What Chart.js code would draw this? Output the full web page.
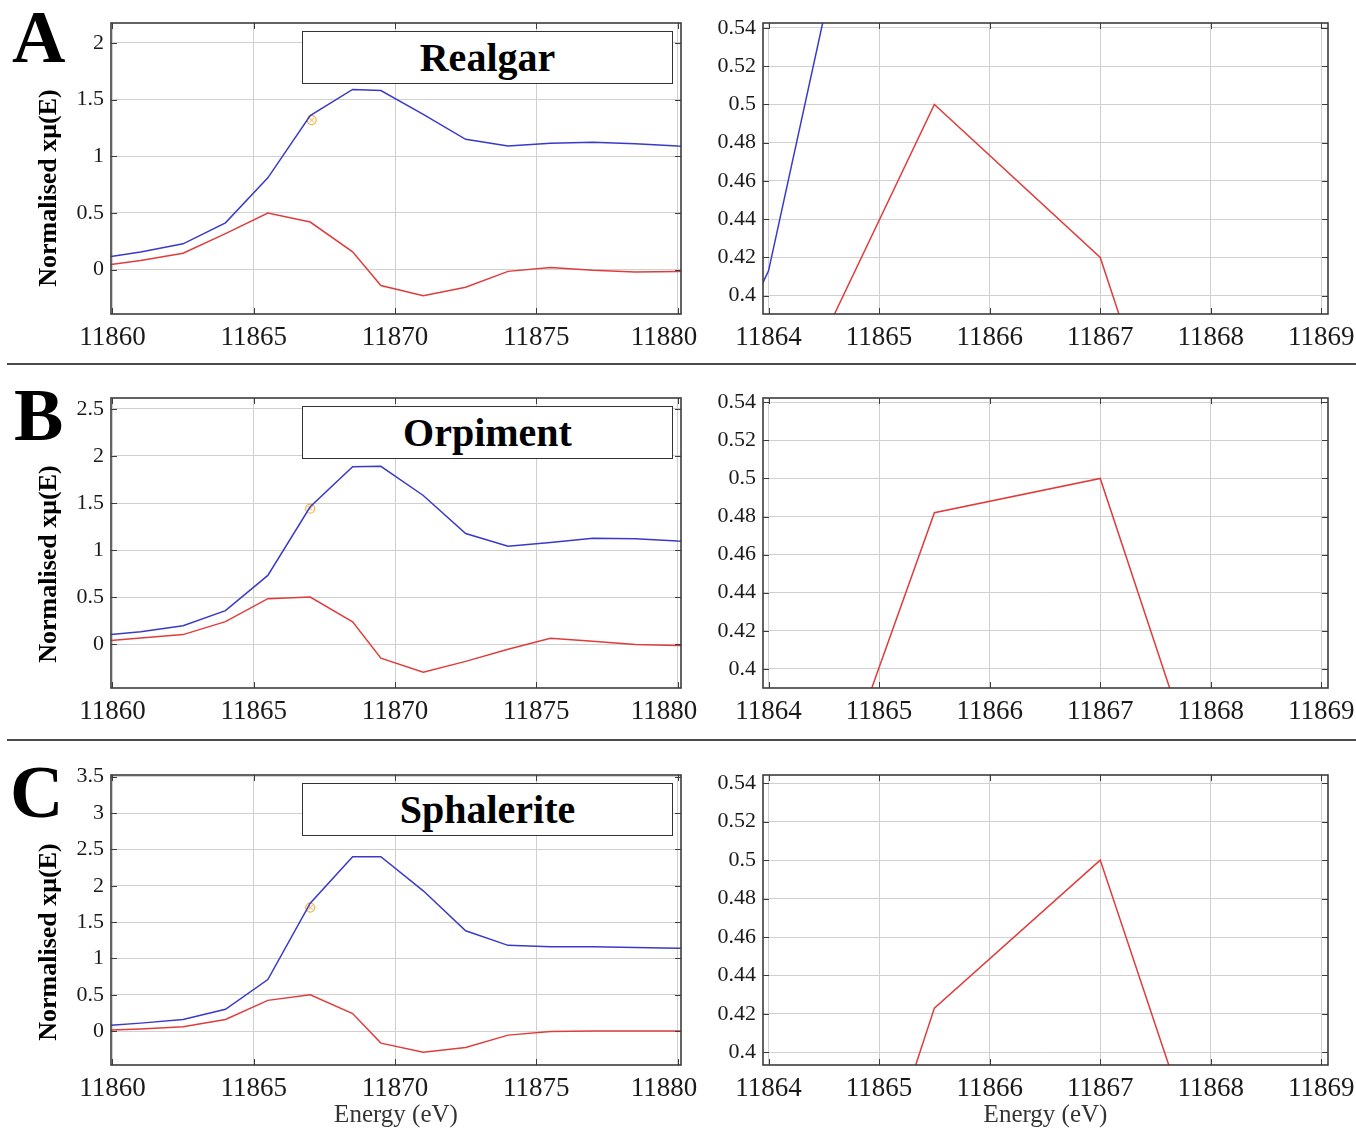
<!DOCTYPE html>
<html>
<head>
<meta charset="utf-8">
<title>As K-edge XANES of arsenic sulfides and sphalerite</title>
<script src="https://cdn.jsdelivr.net/npm/chart.js@4.4.1/dist/chart.umd.min.js"></script>
<style>
  html, body { margin: 0; padding: 0; background: #fff; }
  body { width: 1356px; height: 1130px; position: relative; overflow: hidden;
         font-family: "Liberation Serif", "Times New Roman", serif; }
  canvas { position: absolute; display: block; }
  .letter { position: absolute; font-weight: bold; font-size: 74px; line-height: 1; color: #000; }
  .tag { position: absolute; left: 302px; width: 371px; height: 53px; box-sizing: border-box;
         border: 1.5px solid #333; background: #fff; display: flex; align-items: center;
         justify-content: center; font-weight: bold; font-size: 40px; color: #000; }
  .ylab { position: absolute; left: 48px; font-weight: bold; font-size: 26px; white-space: nowrap;
          color: #000; transform: translate(-50%, -50%) rotate(-90deg); }
  .rule { position: absolute; left: 7px; width: 1349px; height: 2px; background: #4a4a4a; }
</style>
</head>
<body>
<script>
const SERIF = "'Liberation Serif', 'Times New Roman', serif";

// ---- data -------------------------------------------------------------
// Energy grid (eV) shared by all spectra
const energy = [11859.5, 11861, 11862.5, 11864, 11865.5, 11867, 11868.5, 11869.5,
                11871, 11872.5, 11874, 11875.5, 11877, 11878.5, 11880, 11881.5];

// Normalised absorption (blue) and its first derivative (red)
const realgarMu       = [0.10, 0.155, 0.228, 0.413, 0.81, 1.36, 1.59, 1.58, 1.37, 1.15, 1.09, 1.115, 1.125, 1.11, 1.09, 1.08];
const realgarDeriv    = [0.03, 0.08, 0.145, 0.318, 0.50, 0.42, 0.157, -0.14, -0.23, -0.155, -0.015, 0.02, -0.005, -0.02, -0.015, -0.01];
const realgarE0       = [11867.05, 1.32];

const orpimentMu      = [0.09, 0.13, 0.195, 0.355, 0.73, 1.46, 1.885, 1.89, 1.58, 1.175, 1.04, 1.08, 1.125, 1.12, 1.095, 1.08];
const orpimentDeriv   = [0.025, 0.065, 0.10, 0.238, 0.482, 0.50, 0.237, -0.15, -0.30, -0.185, -0.055, 0.06, 0.03, -0.005, -0.015, -0.02];
const orpimentE0      = [11867.0, 1.44];

const sphaleriteMu    = [0.07, 0.11, 0.16, 0.30, 0.71, 1.76, 2.40, 2.40, 1.93, 1.38, 1.18, 1.16, 1.16, 1.15, 1.14, 1.135];
const sphaleriteDeriv = [0.01, 0.03, 0.06, 0.16, 0.423, 0.50, 0.242, -0.165, -0.29, -0.225, -0.055, -0.005, 0, 0, 0, 0];
const sphaleriteE0    = [11867.0, 1.70];

const sampleNames  = ['Realgar', 'Orpiment', 'Sphalerite'];
const panelLetters = ['A', 'B', 'C'];

// ---- ticks ------------------------------------------------------------
const fullEnergyTicks = [11860, 11865, 11870, 11875, 11880];
const zoomEnergyTicks = [11864, 11865, 11866, 11867, 11868, 11869];
const muTicksA = [0, 0.5, 1, 1.5, 2];
const muTicksB = [0, 0.5, 1, 1.5, 2, 2.5];
const muTicksC = [0, 0.5, 1, 1.5, 2, 2.5, 3, 3.5];
const zoomMuTicks = [0.4, 0.42, 0.44, 0.46, 0.48, 0.5, 0.52, 0.54];
const energyTitle = 'Energy (eV)';
const muTitle = 'Normalised x\u03bc(E)';

// ---- layout -----------------------------------------------------------
const BLUE = '#3a3ac8', RED = '#e03c3c', ORANGE = 'rgba(240,165,40,0.85)';
const GRID = '#d0d0d0', FRAME = '#3c3c3c', INK = '#1a1a1a';

const rows = [
  { top: 0,   height: 360, areaTop: 23,  areaBottom: 314,  muRange: [-0.391, 2.176], zoomRange: [0.3904, 0.5426],
    muTicks: muTicksA, mu: realgarMu, deriv: realgarDeriv, e0: realgarE0, zoomMu: true,
    letterPos: [12, 0], tagTop: 31, labelMid: 188 },
  { top: 368, height: 368, areaTop: 398, areaBottom: 688,  muRange: [-0.468, 2.617], zoomRange: [0.3899, 0.5423],
    muTicks: muTicksB, mu: orpimentMu, deriv: orpimentDeriv, e0: orpimentE0, zoomMu: false,
    letterPos: [14, 378], tagTop: 406, labelMid: 564 },
  { top: 745, height: 385, areaTop: 775, areaBottom: 1065, muRange: [-0.466, 3.523], zoomRange: [0.3934, 0.5443],
    muTicks: muTicksC, mu: sphaleriteMu, deriv: sphaleriteDeriv, e0: sphaleriteE0, zoomMu: false,
    letterPos: [10, 755], tagTop: 783, labelMid: 942 }
];
const fullCol = { left: 50,  width: 690, areaLeft: 111, areaRight: 681, xRange: [11859.95, 11880.12] };
const zoomCol = { left: 700, width: 680, areaLeft: 763, areaRight: 1328, xRange: [11863.95, 11869.06] };
// the last energy label sits flush against the frame edge
const LAST_LABEL_PAD = '    ';

// ---- drawing helpers --------------------------------------------------
const boxFrame = {
  id: 'boxFrame',
  afterDatasetsDraw(chart) {
    const { ctx, chartArea: a, scales: { x, y } } = chart;
    ctx.save();
    ctx.strokeStyle = FRAME;
    ctx.lineWidth = 1;
    ctx.beginPath();
    x.ticks.forEach(t => {
      const px = Math.round(x.getPixelForValue(t.value)) + 0.5;
      ctx.moveTo(px, a.bottom); ctx.lineTo(px, a.bottom - 6);
      ctx.moveTo(px, a.top);    ctx.lineTo(px, a.top + 6);
    });
    y.ticks.forEach(t => {
      const py = Math.round(y.getPixelForValue(t.value)) + 0.5;
      ctx.moveTo(a.left, py);  ctx.lineTo(a.left + 6, py);
      ctx.moveTo(a.right, py); ctx.lineTo(a.right - 6, py);
    });
    ctx.stroke();
    ctx.lineWidth = 1.6;
    ctx.strokeRect(a.left, a.top, a.right - a.left, a.bottom - a.top);
    ctx.restore();
  }
};

const pairs = (xs, ys) => xs.map((v, i) => ({ x: v, y: ys[i] }));

function lineSet(values, color) {
  return { data: pairs(energy, values), borderColor: color, borderWidth: 1.5,
           pointRadius: 0, tension: 0, fill: false };
}

function makePanel(row, col, zoomed, showTitle) {
  const cv = document.createElement('canvas');
  cv.width = col.width; cv.height = row.height;
  cv.style.left = col.left + 'px'; cv.style.top = row.top + 'px';
  document.body.appendChild(cv);

  const yAxisW = col.areaLeft - col.left;
  const padRight = col.left + col.width - col.areaRight;
  const padTop = row.areaTop - row.top;
  const xAxisH = row.top + row.height - row.areaBottom;
  const xTicks = zoomed ? zoomEnergyTicks : fullEnergyTicks;
  const yTicks = zoomed ? zoomMuTicks : row.muTicks;
  const yRange = zoomed ? row.zoomRange : row.muRange;

  const datasets = [];
  if (!zoomed || row.zoomMu) datasets.push(lineSet(row.mu, BLUE));
  datasets.push(lineSet(row.deriv, RED));
  if (!zoomed) {
    const pt = [{ x: row.e0[0], y: row.e0[1] }];
    datasets.push({ data: pt, showLine: false, pointStyle: 'circle', pointRadius: 4.5,
                    pointBorderColor: ORANGE, pointBackgroundColor: 'rgba(0,0,0,0)', pointBorderWidth: 1.2 });
    datasets.push({ data: pt, showLine: false, pointStyle: 'crossRot', pointRadius: 3.5,
                    pointBorderColor: ORANGE, pointBorderWidth: 1 });
  }

  new Chart(cv, {
    type: 'line',
    data: { datasets },
    options: {
      responsive: false, animation: false, events: [],
      layout: { padding: { top: padTop, right: padRight, left: 0, bottom: 0 } },
      plugins: { legend: { display: false }, tooltip: { enabled: false } },
      scales: {
        x: {
          type: 'linear', min: col.xRange[0], max: col.xRange[1],
          afterBuildTicks: s => { s.ticks = xTicks.map(v => ({ value: v })); },
          afterFit: s => { s.height = xAxisH; },
          grid: { color: GRID, lineWidth: 1, drawTicks: false },
          border: { display: false },
          ticks: {
            padding: 8, color: INK, maxRotation: 0, autoSkip: false,
            font: { family: SERIF, size: 27 },
            callback: v => (!zoomed && v === xTicks[xTicks.length - 1]) ? String(v) + LAST_LABEL_PAD : String(v)
          },
          title: { display: showTitle, text: energyTitle, color: '#333',
                   font: { family: SERIF, size: 25 }, padding: { top: 0, bottom: 0 } }
        },
        y: {
          type: 'linear', min: yRange[0], max: yRange[1],
          afterBuildTicks: s => { s.ticks = yTicks.map(v => ({ value: v })); },
          afterFit: s => { s.width = yAxisW; },
          grid: { color: GRID, lineWidth: 1, drawTicks: false },
          border: { display: false },
          ticks: {
            padding: 7, color: INK,
            font: { family: SERIF, size: 22 },
            callback: v => String(+v.toFixed(2))
          }
        }
      }
    },
    plugins: [boxFrame]
  });
}

rows.forEach((row, i) => {
  const last = i === rows.length - 1;
  makePanel(row, fullCol, false, last);
  makePanel(row, zoomCol, true, last);
});

// overlay text: panel letters, sample tags, y-axis captions, row dividers
rows.forEach((row, i) => {
  const letter = document.createElement('div');
  letter.className = 'letter';
  letter.textContent = panelLetters[i];
  letter.style.left = row.letterPos[0] + 'px';
  letter.style.top = row.letterPos[1] + 'px';
  document.body.appendChild(letter);

  const tag = document.createElement('div');
  tag.className = 'tag';
  tag.textContent = sampleNames[i];
  tag.style.top = row.tagTop + 'px';
  document.body.appendChild(tag);

  const lab = document.createElement('div');
  lab.className = 'ylab';
  lab.textContent = muTitle;
  lab.style.top = row.labelMid + 'px';
  document.body.appendChild(lab);
});
[363, 739].forEach(t => {
  const r = document.createElement('div');
  r.className = 'rule';
  r.style.top = t + 'px';
  document.body.appendChild(r);
});
</script>
</body>
</html>
